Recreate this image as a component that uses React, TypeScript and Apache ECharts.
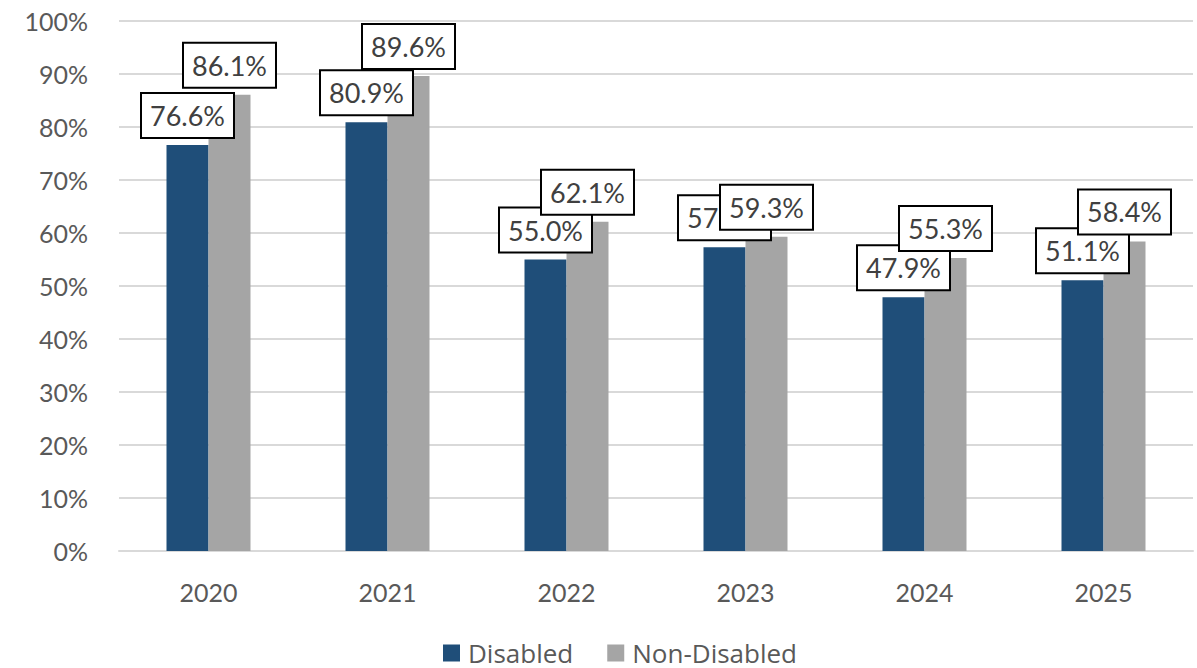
import React, { useEffect, useRef } from "react";
import * as echarts from "echarts";

const categories = ["2020", "2021", "2022", "2023", "2024", "2025"];
const disabled = [76.6, 80.9, 55.0, 57.3, 47.9, 51.1];
const nonDisabled = [86.1, 89.6, 62.1, 59.3, 55.3, 58.4];
const seriesNames = ["Disabled", "Non-Disabled"];

export default function App() {
  const ref = useRef<HTMLDivElement>(null);
  useEffect(() => {
    document.body.style.margin = "0";
    const chart = echarts.init(ref.current!, null, { renderer: "svg" });
    const label = {
      show: true,
      position: "top",
      distance: 8,
      formatter: (p: any) => p.value.toFixed(1) + "%",
      fontFamily: "Lato",
      fontSize: 27,
      color: "#404040",
      backgroundColor: "#ffffff",
      borderColor: "#000000",
      borderWidth: 2,
      padding: [8, 8, 8, 8],
    };
    chart.setOption({
      animation: false,
      grid: { left: 119, right: 4, top: 21, bottom: 117, containLabel: false },
      legend: {
        top: 639,
        left: 443,
        itemWidth: 17,
        itemHeight: 17,
        itemGap: 34,
        padding: 0,
        icon: "rect",
        textStyle: { fontFamily: "Open Sans", fontSize: 26, lineHeight: 28, color: "#595959", padding: [0, 0, 0, 3] },
        data: seriesNames,
      },
      xAxis: {
        type: "category",
        data: categories,
        axisLine: { lineStyle: { color: "#d9d9d9", width: 2 } },
        axisTick: { show: false },
        axisLabel: { fontFamily: "Lato", fontSize: 25, color: "#595959", margin: 28 },
      },
      yAxis: {
        type: "value",
        min: 0,
        max: 100,
        interval: 10,
        axisLabel: { formatter: "{value}%", fontFamily: "Lato", fontSize: 25, color: "#595959", margin: 31 },
        splitLine: { lineStyle: { color: "#d9d9d9", width: 2 } },
        axisLine: { show: false },
        axisTick: { show: false },
      },
      series: [
        {
          name: seriesNames[0],
          type: "bar",
          data: disabled,
          barWidth: 42,
          barGap: "0%",
          itemStyle: { color: "#1F4E79" },
          label,
        },
        {
          name: seriesNames[1],
          type: "bar",
          data: nonDisabled,
          barWidth: 42,
          barGap: "0%",
          itemStyle: { color: "#A5A5A5" },
          label,
        },
      ],
    });
    return () => chart.dispose();
  }, []);
  return <div ref={ref} style={{ position: "absolute", left: 0, top: 0, width: 1197, height: 668 }} />;
}
